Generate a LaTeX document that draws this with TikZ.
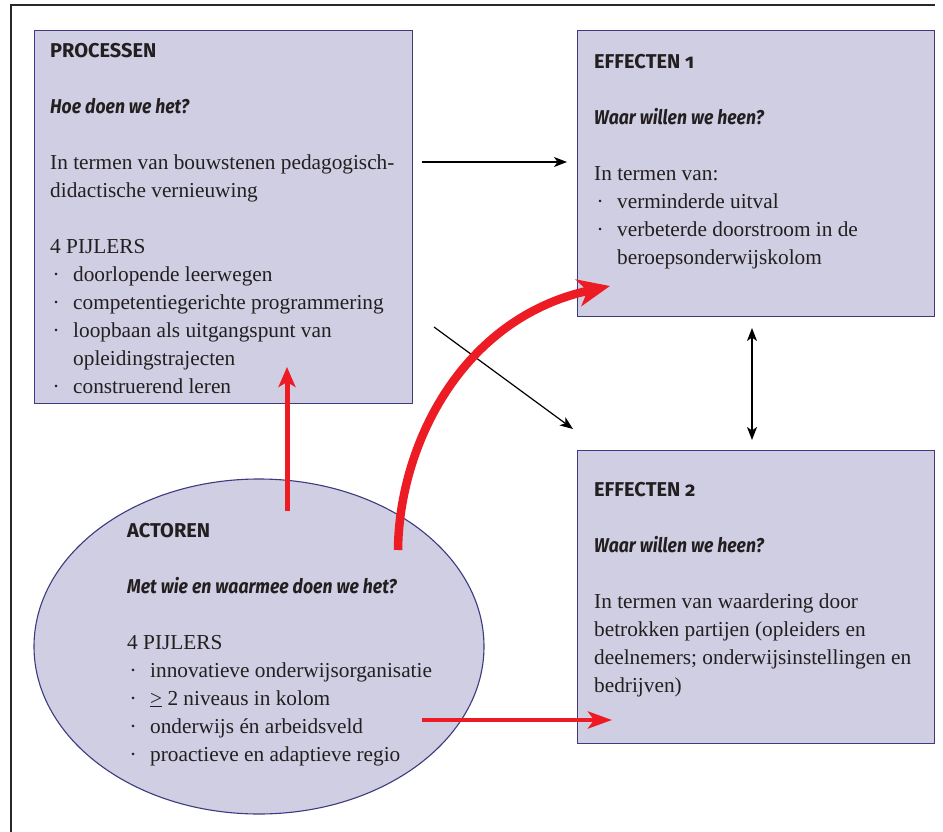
\documentclass[tikz,border=0pt]{standalone}
\usepackage{fontspec}
\setmainfont{Liberation Serif}
\newfontfamily\headfont{Fira Sans}[Numbers=OldStyle]
\newfontfamily\quesfont{Fira Sans}[FakeStretch=0.88]
\usetikzlibrary{arrows.meta,shapes.geometric}
\definecolor{boxfill}{RGB}{207,206,226}
\definecolor{boxline}{RGB}{62,58,128}
\definecolor{arrred}{RGB}{237,28,36}
\definecolor{txt}{RGB}{35,31,32}
\definecolor{framec}{RGB}{40,40,40}
\newcommand{\hd}[1]{{\headfont\bfseries\fontsize{20}{28}\selectfont #1}}
\newcommand{\qu}[1]{{\quesfont\bfseries\itshape\fontsize{20}{28}\selectfont #1}}
\newcommand{\bl}{\hspace*{2.5pt}\makebox[20.5pt][l]{·}}
\newcommand{\ind}{\hspace*{23pt}}
\newcommand{\tp}{\rule{0pt}{20pt}}
\tikzset{
  box/.style={draw=boxline, fill=boxfill, line width=1.3pt, rectangle, inner sep=0pt, anchor=north west},
  oval/.style={draw=boxline, fill=boxfill, line width=1.1pt, ellipse, inner sep=0pt},
  blocktext/.style={anchor=north west, align=left, inner sep=0pt, text=txt, font=\fontsize{21.3}{28}\selectfont},
  thinarr/.style={draw=black, line width=1.2pt, -{Stealth[length=13pt,width=10pt,inset=3.5pt]}},
  thinboth/.style={draw=black, line width=1.2pt, {Stealth[length=13pt,width=10pt,inset=3.5pt]}-{Stealth[length=13pt,width=10pt,inset=3.5pt]}},
  redarr/.style={draw=arrred, line width=5pt, -{Stealth[length=20pt,width=17pt,inset=5pt]}},
  redbig/.style={draw=arrred, line width=8.5pt, -{Stealth[length=32pt,width=27pt,inset=9pt]}},
  redmid/.style={draw=arrred, line width=4.5pt, -{Stealth[length=24pt,width=17pt,inset=6pt]}},
}
\begin{document}
\begin{tikzpicture}[x=1pt,y=-1pt]
\useasboundingbox (0,0) rectangle (943,832);
\fill[white] (0,0) rectangle (943,832);
% frame
\draw[framec, line width=1.2pt] (11,832) -- (11,5) -- (935,5);
% boxes
\node[box, minimum width=378pt, minimum height=373pt] (proc) at (34,30) {};
\node[box, minimum width=357pt, minimum height=286pt] (eff1) at (577,30) {};
\node[box, minimum width=357pt, minimum height=293pt] (eff2) at (577,450) {};
\node[oval, minimum width=450pt, minimum height=335pt] (act) at (259,646.5) {};
% texts
\node[blocktext] (proctext) at (50,37) {\tp\hd{PROCESSEN}\\[28pt]
\qu{Hoe doen we het?}\\[28pt]
In termen van bouwstenen pedagogisch-\\
didactische vernieuwing\\[28pt]
4 PIJLERS\\
\bl doorlopende leerwegen\\
\bl competentiegerichte programmering\\
\bl loopbaan als uitgangspunt van\\
\ind opleidingstrajecten\\
\bl construerend leren};
\node[blocktext] (eff1text) at (594,48) {\tp\hd{EFFECTEN 1}\\[28pt]
\qu{Waar willen we heen?}\\[28pt]
In termen van:\\
\bl verminderde uitval\\
\bl verbeterde doorstroom in de\\
\ind beroepsonderwijskolom};
\node[blocktext] (eff2text) at (594,476) {\tp\hd{EFFECTEN 2}\\[28pt]
\qu{Waar willen we heen?}\\[28pt]
In termen van waardering door\\
betrokken partijen (opleiders en\\
deelnemers; onderwijsinstellingen en\\
bedrijven)};
\node[blocktext] (acttext) at (127,517) {\tp\hd{ACTOREN}\\[28pt]
\qu{Met wie en waarmee doen we het?}\\[28pt]
4 PIJLERS\\
\bl innovatieve onderwijsorganisatie\\
\bl \underline{>} 2 niveaus in kolom\\
\bl onderwijs én arbeidsveld\\
\bl proactieve en adaptieve regio};
% connector ends
\coordinate (a1s) at (422,162);
\coordinate (a1e) at (567,162);
\coordinate (a2s) at (434,327);
\coordinate (a2e) at (573,429);
\coordinate (a3s) at (752,328);
\coordinate (a3e) at (752,440);
\coordinate (r1s) at (287,511);
\coordinate (r1e) at (287,367);
\coordinate (r2s) at (398,550);
\coordinate (r2e) at (610,286);
\coordinate (r3s) at (422,720);
\coordinate (r3e) at (612,720);
% black arrows
\draw[thinarr] (a1s) -- (a1e);
\draw[thinarr] (a2s) -- (a2e);
\draw[thinboth] (a3s) -- (a3e);
% red arrows
\draw[redarr] (r1s) -- (r1e);
\draw[redbig] (r2s) .. controls (399,445) and (462,318) .. (r2e);
\draw[redmid] (r3s) -- (r3e);
\end{tikzpicture}
\end{document}
